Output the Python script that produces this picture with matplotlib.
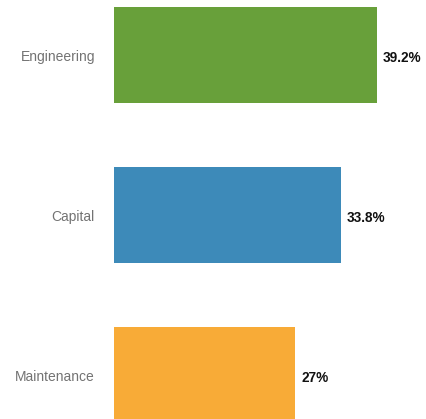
import matplotlib.pyplot as plt
from matplotlib.transforms import offset_copy

categories = ["Engineering", "Capital", "Maintenance"]
shares = [39.2, 33.8, 27]
labels = ["39.2%", "33.8%", "27%"]
colors = ["#68a03a", "#3d8ab9", "#f8ab37"]

plt.rcParams["font.family"] = ["Liberation Sans", "DejaVu Sans"]

fig = plt.figure(figsize=(4.27, 4.19), dpi=100)
ax = fig.add_axes([114 / 427, 0, 1 - 114 / 427, 1])

pos = range(len(categories))
ax.barh(pos, shares, height=0.6, color=colors)
ax.set_xlim(0, 313 / 6.709)
ax.set_ylim(364 / 160, -55 / 160)

ax.set_yticks([])
ax.set_xticks([])
for s in ax.spines.values():
    s.set_visible(False)

cat_trans = offset_copy(ax.transData, fig=fig, x=-19, y=-2, units="dots")
val_trans = offset_copy(ax.transData, fig=fig, x=6, y=-3, units="dots")
for i, (c, v, t) in enumerate(zip(categories, shares, labels)):
    ax.text(0, i, c, transform=cat_trans, ha="right", va="center",
            fontsize=10, color="#737373", clip_on=False)
    ax.text(v, i, t, transform=val_trans, ha="left", va="center",
            fontsize=9.8, fontweight="bold", color="#111111")

fig.savefig("out.png", dpi=100)
